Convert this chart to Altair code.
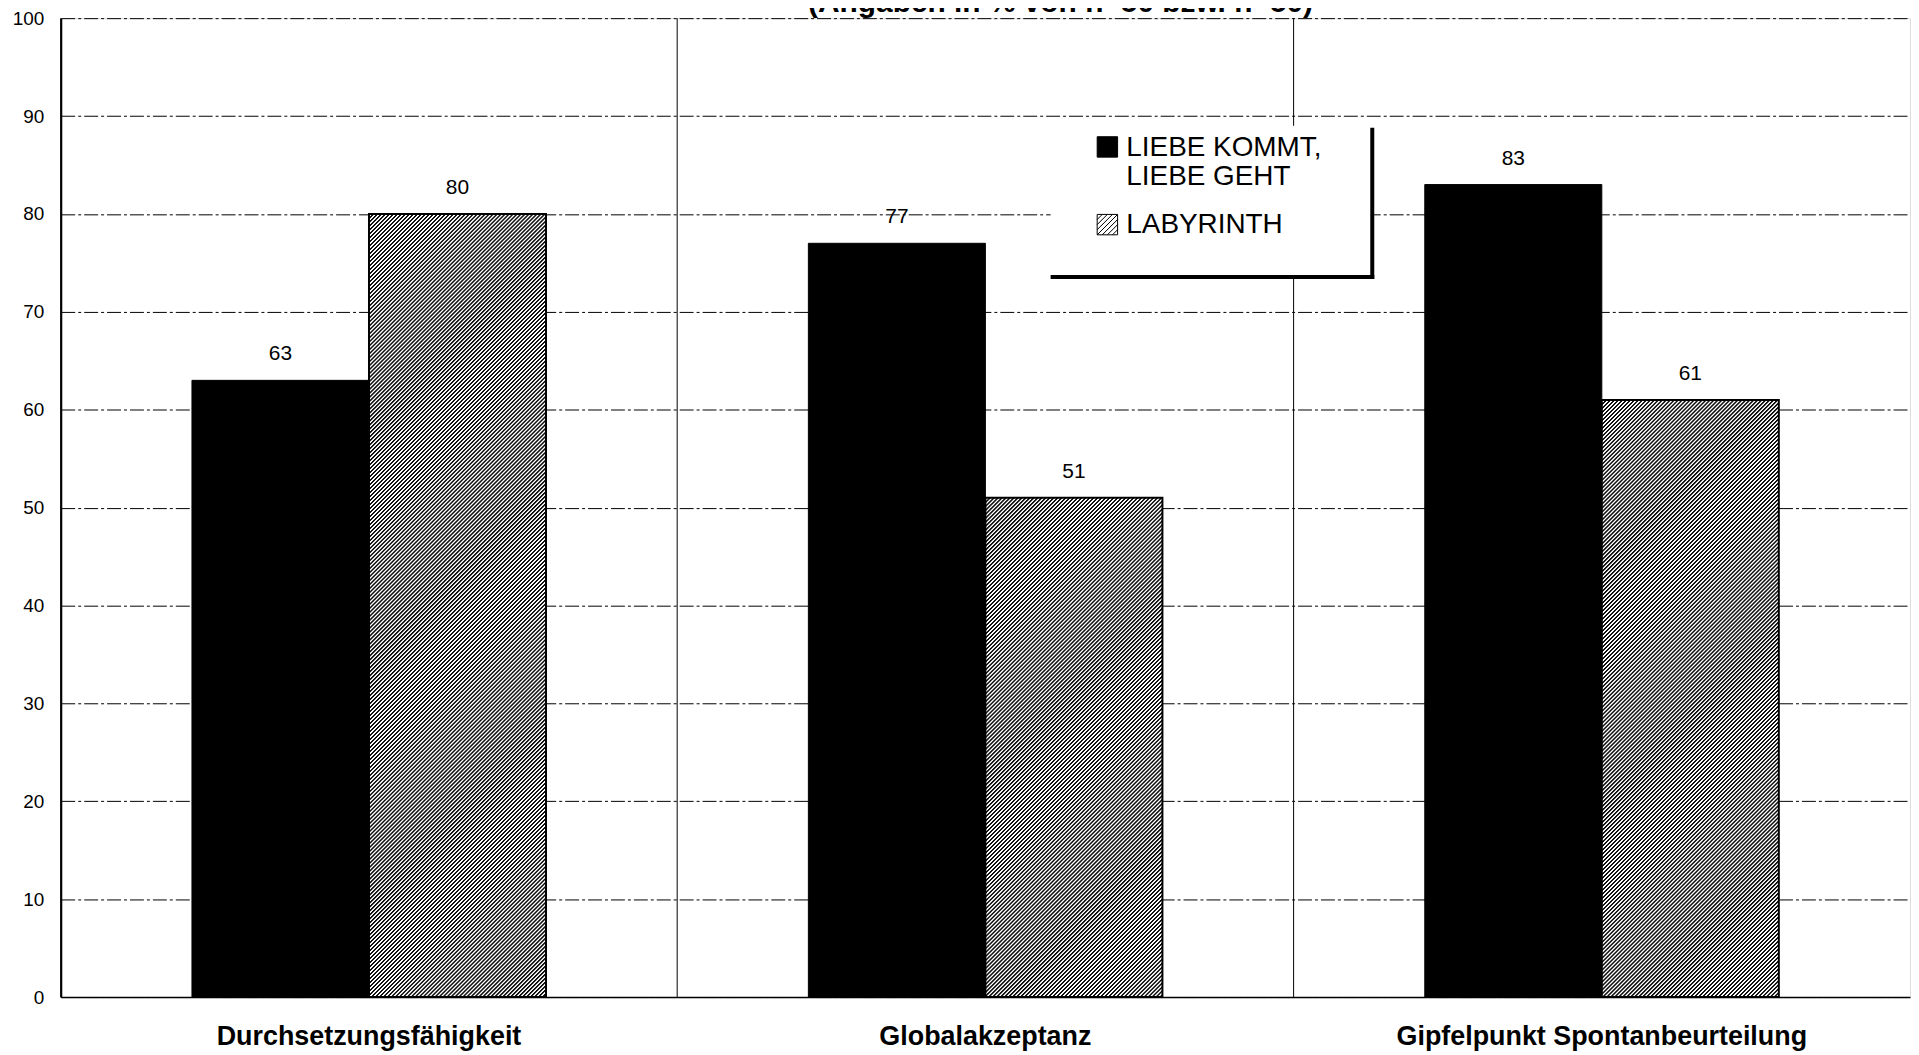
import altair as alt
import pandas as pd

# ---------------- data ----------------
categories = ["Durchsetzungsfähigkeit", "Globalakzeptanz", "Gipfelpunkt Spontanbeurteilung"]
series_names = ["LIEBE KOMMT, LIEBE GEHT", "LABYRINTH"]
liebe_values = [63, 77, 83]
labyrinth_values = [80, 51, 61]
title_text = ["(Angaben in % von n=50 bzw. n=50)"]

rows = []
for c, a, b in zip(categories, liebe_values, labyrinth_values):
    rows.append({"category": c, "series": series_names[0], "value": a})
    rows.append({"category": c, "series": series_names[1], "value": b})
df = pd.DataFrame(rows)

# ---------------- geometry / style ----------------
W, H = 1857, 983
FONT = "Liberation Sans"
OFF_PAD = 0.741
bar_w = (W / 3) / (2 + 2 * OFF_PAD)
SYM_DY = 1.3  # shift of legend symbols (unit coords) so they sit beside the first label line


def hatch(value, period=4.0, dark="#111111", light="#ffffff"):
    w = bar_w
    h = value / 100.0 * H
    s = w + h
    k = s / (w * w + h * h)
    stops = []
    i = 0
    while i * period < s:
        pts = [(0.0, dark), (0.35, dark), (0.55, light), (0.85, light)]
        for frac, col in pts:
            off = (i + frac) * period / s
            if off <= 1.0:
                stops.append({"offset": off, "color": col})
        i += 1
    return {"gradient": "linear", "x1": 0, "y1": 0, "x2": k * w, "y2": k * h, "stops": stops}


def square_path(dy=SYM_DY):
    return f"M-1,{-1 + dy:.3f}H1V{1 + dy:.3f}H-1Z"


def hatch_path(step=0.5, dy=SYM_DY):
    parts = [square_path(dy)]
    c = -2 + step
    while c < 2 - 1e-9:
        if c < 0:
            parts.append(f"M-1,{c + 1 + dy:.3f}L{c + 1:.3f},{-1 + dy:.3f}")
        else:
            parts.append(f"M{c - 1:.3f},{1 + dy:.3f}L1,{c - 1 + dy:.3f}")
        c += step
    return " ".join(parts)


LABEL_EXPR = "split(replace(datum.label, ', ', ',|'), '|')"
legend_def = alt.Legend(
    title=None, labelExpr=LABEL_EXPR, orient="none", legendX=1037, legendY=102,
    labelFont=FONT, labelFontSize=28, labelColor="black", labelLimit=400,
    labelOffset=5, symbolSize=420, symbolStrokeWidth=1, symbolStrokeColor="black",
    symbolOpacity=1, rowPadding=6, padding=0, labelBaseline="top",
)

x_axis = alt.Axis(
    title=None, labelAngle=0, ticks=False, grid=False, labelLimit=0,
    labelAlign="center", labelBaseline="top",
    labelFont=FONT, labelFontSize=27, labelFontWeight="bold",
    labelColor="black", labelPadding=27, domainColor="black", domainWidth=1.5,
)
x_scale = alt.Scale(paddingInner=0, paddingOuter=0)
x_enc = alt.X("category:N", sort=categories, scale=x_scale, axis=x_axis)
xoff_enc = alt.XOffset(
    "series:N", sort=series_names,
    scale=alt.Scale(domain=series_names, paddingInner=0, paddingOuter=OFF_PAD),
)
y_enc = alt.Y(
    "value:Q",
    scale=alt.Scale(domain=[0, 100]),
    axis=alt.Axis(
        title=None, values=list(range(0, 101, 10)), ticks=False,
        labelFont=FONT, labelFontSize=19, labelColor="black", labelPadding=17,
        grid=True, gridColor="black", gridWidth=1, gridDash=[14, 3, 3, 3],
        domainColor="black", domainWidth=2,
    ),
)

base = alt.Chart(df)

# vertical separators at the start of each category band
separators = base.transform_filter(
    f"datum.series === '{series_names[0]}'"
).mark_rule(color="black", strokeWidth=1).encode(
    x=alt.X("category:N", sort=categories, bandPosition=0, scale=x_scale, axis=x_axis)
)

# hidden points carrying the legend
legend_points = base.transform_calculate(half="datum.value / 2").mark_point(
    filled=True, size=400, strokeWidth=1, opacity=1
).encode(
    x=x_enc, xOffset=xoff_enc,
    y=alt.Y("half:Q"),
    shape=alt.Shape("series:N", sort=series_names, legend=legend_def,
                    scale=alt.Scale(domain=series_names, range=[square_path(), hatch_path()])),
    fill=alt.Fill("series:N", sort=series_names, legend=legend_def,
                  scale=alt.Scale(domain=series_names, range=["black", "white"])),
    stroke=alt.Stroke("series:N", sort=series_names, legend=legend_def,
                      scale=alt.Scale(domain=series_names, range=["black", "black"])),
)

black_bars = base.transform_filter(
    f"datum.series === '{series_names[0]}'"
).mark_bar(fill="black", stroke="black", strokeWidth=1).encode(
    x=x_enc, xOffset=xoff_enc, y=y_enc
)

hatched_layers = []
for c, v in zip(categories, labyrinth_values):
    hatched_layers.append(
        base.transform_filter(
            f"datum.series === '{series_names[1]}' && datum.category === '{c}'"
        ).mark_bar(fill=hatch(v), stroke="black", strokeWidth=2).encode(
            x=x_enc, xOffset=xoff_enc, y=y_enc
        )
    )

labels = base.mark_text(
    font=FONT, fontSize=21, color="black", baseline="alphabetic", dy=-20
).encode(
    x=x_enc, xOffset=xoff_enc, y=y_enc, text=alt.Text("value:Q")
)

one = alt.Data(values=[{"k": 1}])
legend_bg = alt.Chart(one).mark_rect(fill="white").encode(
    x=alt.value(994), x2=alt.value(1317), y=alt.value(108), y2=alt.value(260)
)
legend_right = alt.Chart(one).mark_rule(color="black", strokeWidth=4).encode(
    x=alt.value(1317), y=alt.value(110), y2=alt.value(262)
)
legend_bottom = alt.Chart(one).mark_rule(color="black", strokeWidth=4).encode(
    x=alt.value(994), x2=alt.value(1319), y=alt.value(260)
)

title_mark = alt.Chart(alt.Data(values=[{"t": t} for t in title_text])).mark_text(
    font=FONT, fontSize=30, fontWeight="bold", color="black",
    align="center", baseline="alphabetic",
).encode(
    x=alt.value(1004), y=alt.value(-6), text="t:N"
)

chart = alt.layer(
    separators, legend_points, black_bars, *hatched_layers, labels,
    legend_bg, legend_right, legend_bottom, title_mark,
).resolve_scale(
    fill="shared", shape="shared", stroke="shared"
).properties(
    width=W, height=H,
    autosize=alt.AutoSizeParams(type="none"),
    padding={"left": 53, "top": 8, "right": 1, "bottom": 56},
).configure_view(
    stroke="black", strokeWidth=1
).configure(background="white")

chart.save("out.html", embed_options={"renderer": "svg", "actions": False})
